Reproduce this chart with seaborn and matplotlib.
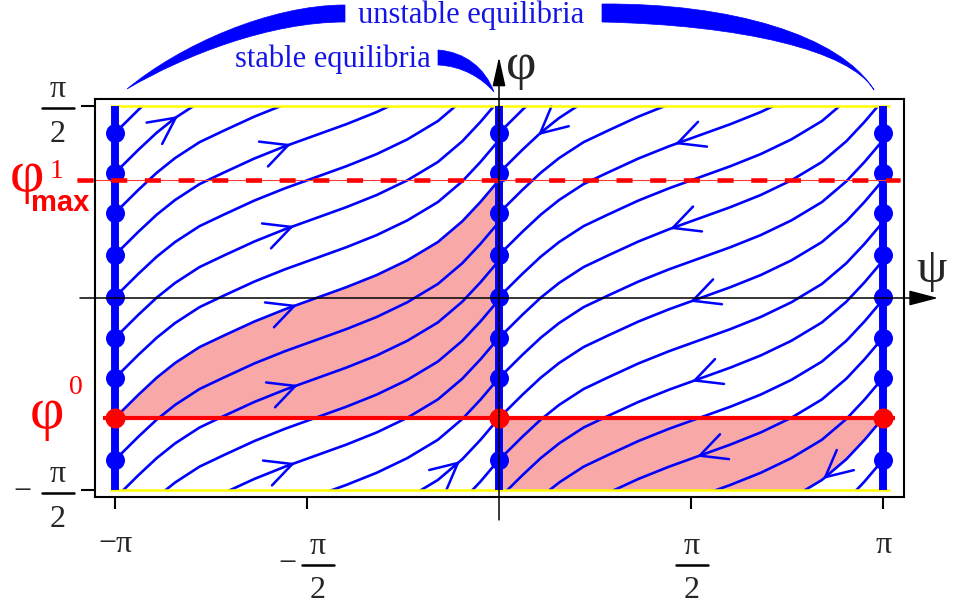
import numpy as np
import pandas as pd
import matplotlib
matplotlib.use("Agg")
import matplotlib.pyplot as plt
import seaborn as sns
from matplotlib.lines import Line2D
from matplotlib.patches import Rectangle, PathPatch
from matplotlib.path import Path

PI = np.pi

# shape of one trajectory on the left strip: psi from -pi to 0, rise of phi above its start
base_psi = [-PI, -2.95, -2.80, -2.65, -2.45, -2.25, -2.00, -1.75, -1.50,
            -1.25, -1.00, -0.75, -0.50, -0.30, -0.15, 0.0]
base_rise = [0.0, 0.19, 0.33, 0.45, 0.58, 0.675, 0.79, 0.89, 0.98,
             1.07, 1.17, 1.29, 1.44, 1.61, 1.77, 1.947]

# phi where each trajectory leaves psi = -pi (left strip) or psi = 0 (right strip)
curve_start = [-3.27, -2.929, -2.60, -2.27, -1.96, -1.64, -1.325, -0.982,
               -0.655, -0.327, 0.008, 0.352, 0.695, 1.023, 1.350]

# lines of equilibria and the dots on them
equilibria_psi = [-PI, 0.0, PI]
dots_phi = [-1.325, -0.655, -0.327, 0.008, 0.352, 0.695, 1.023, 1.350]
phi0 = -0.982
phi1_max = 0.965
right_edge_start = -2.929   # trajectory that ends in (pi, phi0)

# direction arrows: (start phi of the trajectory, psi of the arrow tip)
arrows_left = [(1.023, -2.626), (0.352, -1.702), (-0.327, -1.677), (-0.982, -1.653),
               (-1.64, -1.644), (-2.27, -1.669), (-2.929, -0.319)]
arrows_right = [(1.023, 0.319), (0.352, 1.44), (-0.327, 1.399), (-0.982, 1.563),
                (-1.64, 1.579), (-2.27, 1.62), (-2.929, 2.651)]

rows = []
for i, c in enumerate(curve_start):
    for side, shift in (("L", 0.0), ("R", PI)):
        for p, r in zip(base_psi, base_rise):
            rows.append({"curve": f"{side}{i}", "psi": p + shift, "phi": r + c})
traj = pd.DataFrame(rows)

sns.set_theme(style="white")
plt.rcParams["font.family"] = ["Liberation Serif", "DejaVu Serif"]

W, H = 955, 606
fig = plt.figure(figsize=(W / 100, H / 100), dpi=100)
ax = fig.add_axes([95 / W, 1 - 496.7 / H, 809 / W, 397.4 / H])

BLUE = "#0000ff"
RED = "#ff0000"
PINK = "#f9a8a8"

strip = Rectangle((-PI, -PI / 2), 2 * PI, PI, transform=ax.transData)

# shaded regions
ax.fill_between(base_psi, phi0, np.array(base_rise) + phi0, color=PINK, lw=0, zorder=1)
rfill = ax.fill_between(np.array(base_psi) + PI, np.array(base_rise) + right_edge_start, phi0,
                        color=PINK, lw=0, zorder=1)
rfill.set_clip_path(strip)

# trajectories
n0 = len(ax.lines)
sns.lineplot(data=traj, x="psi", y="phi", units="curve", estimator=None, sort=False,
             color=BLUE, linewidth=1.9, legend=False, ax=ax)
for ln in ax.lines[n0:]:
    ln.set_clip_path(strip)
    ln.set_zorder(2)

# arrow heads along the trajectories
head = "->,head_length=1.9,head_width=0.95"
for arrows, shift, back in ((arrows_left, 0.0, -0.05), (arrows_right, PI, 0.05)):
    for c, p in arrows:
        ty = np.interp(p - shift, base_psi, base_rise) + c
        sy = np.interp(p + back - shift, base_psi, base_rise) + c
        ax.annotate("", xy=(p, ty), xytext=(p + back, sy), zorder=2.5,
                    arrowprops=dict(arrowstyle=head, color=BLUE, lw=1.8,
                                    shrinkA=0, shrinkB=0, mutation_scale=10))

# top and bottom borders of phi
ax.hlines([-PI / 2, PI / 2], -3.183, 3.199, color="#ffff00", lw=1.8, zorder=3)

# lines of equilibria
ax.vlines(equilibria_psi, -PI / 2, PI / 2, color=BLUE, lw=5.7, zorder=5)
for p in equilibria_psi:
    sns.scatterplot(x=[p] * len(dots_phi), y=dots_phi, s=187, color=BLUE,
                    linewidth=0, zorder=6, legend=False, ax=ax)

# phi0 and phi1_max levels
ax.plot([-PI - 0.1, PI + 0.1], [phi0, phi0], color=RED, lw=3, zorder=6.5,
        solid_capstyle="butt")
ax.plot([-3.452, 3.281], [phi1_max, phi1_max], color="#ff3b3b", lw=0.8, zorder=6.5,
        clip_on=False)
ax.plot([-3.452, 3.281], [phi1_max, phi1_max], color=RED, lw=3.3, zorder=6.6,
        linestyle=(0, (3.5, 3.85)), dash_capstyle="butt", clip_on=False)
sns.scatterplot(x=equilibria_psi, y=[phi0] * 3, s=207, color=RED, linewidth=0,
                zorder=7, legend=False, ax=ax)

# coordinate axes with arrows
ax.annotate("", xy=(0, 1.972), xytext=(0, -1.816), annotation_clip=False, zorder=9,
            arrowprops=dict(arrowstyle="-|>,head_length=1.8,head_width=0.4", color="black",
                            lw=1.1, shrinkA=0, shrinkB=0, mutation_scale=10))
ax.annotate("", xy=(3.592, 0), xytext=(-3.428, 0), annotation_clip=False, zorder=9,
            arrowprops=dict(arrowstyle="-|>,head_length=1.8,head_width=0.47", color="black",
                            lw=1.1, shrinkA=0, shrinkB=0, mutation_scale=10))

ax.set_xlim(-3.305, 3.313)
ax.set_ylim(-1.626, 1.626)
ax.set_xlabel("")
ax.set_ylabel("")
ax.set_xticks([-PI, -PI / 2, PI / 2, PI])
ax.set_yticks([-PI / 2, PI / 2])
ax.set_xticklabels([])
ax.set_yticklabels([])
ax.tick_params(axis="x", bottom=True, length=8.6, width=1.5, color="black", direction="out")
ax.tick_params(axis="y", left=True, length=10, width=1.5, color="black", direction="out")
for sp in ax.spines.values():
    sp.set_color("black")
    sp.set_linewidth(1.5)
    sp.set_zorder(9)


def put(x, y, s, **kw):
    fig.text(x / W, 1 - y / H, s, **kw)


def frac(xc, bar_y, minus_x=None):
    put(xc, bar_y - 11, "π", fontsize=23, ha="center", va="baseline")
    put(xc, bar_y + 33.5, "2", fontsize=23, ha="center", va="baseline")
    fig.add_artist(Line2D([(xc - 16) / W, (xc + 16) / W], [1 - bar_y / H] * 2,
                          transform=fig.transFigure, color="black", lw=1.8))
    if minus_x is not None:
        put(minus_x, bar_y - 1, "−", fontsize=23, ha="center", va="center")


# tick labels
frac(58, 108.3)
frac(58, 493.3, minus_x=22)
frac(318, 565, minus_x=287)
frac(692, 565)
put(115, 552, "−π", fontsize=23, ha="center", va="baseline")
put(884, 553, "π", fontsize=23, ha="center", va="baseline")

# axis names and levels
put(521, 66, "φ", fontsize=38, ha="center", va="center")
put(932, 270, "ψ", fontsize=35, ha="center", va="center")
put(47, 414, "φ", fontsize=43, ha="center", va="center", color=RED)
put(76, 387, "0", fontsize=20, ha="center", va="center", color=RED)
put(27, 177, "φ", fontsize=43, ha="center", va="center", color=RED)
put(57, 172, "1", fontsize=20, ha="center", va="center", color=RED)
put(60, 211, "max", fontsize=21, ha="center", va="baseline", color=RED,
    family=["Liberation Sans", "DejaVu Sans"], fontweight="bold")

# annotations at the top
put(358, 23, "unstable equilibria", fontsize=22, ha="left", va="baseline", color="#1414e6")
put(235, 67, "stable equilibria", fontsize=22, ha="left", va="baseline", color="#1414e6")


def wedge(pts):
    verts = [(x / W, 1 - y / H) for x, y in pts] + [(0, 0)]
    codes = [Path.MOVETO] + [Path.CURVE4] * 6 + [Path.CLOSEPOLY]
    fig.add_artist(PathPatch(Path(verts, codes), transform=fig.transFigure,
                             facecolor=BLUE, edgecolor=BLUE, lw=0.5))


wedge([(345, 5), (270, 5), (180, 45), (127, 89), (185, 55), (270, 22), (345, 22)])
wedge([(602, 4), (730, 3), (840, 35), (874, 90), (850, 50), (740, 25), (602, 22)])
wedge([(438, 50), (465, 52), (485, 68), (494, 92), (482, 78), (462, 66), (438, 65)])

fig.savefig("out.png", dpi=100)
